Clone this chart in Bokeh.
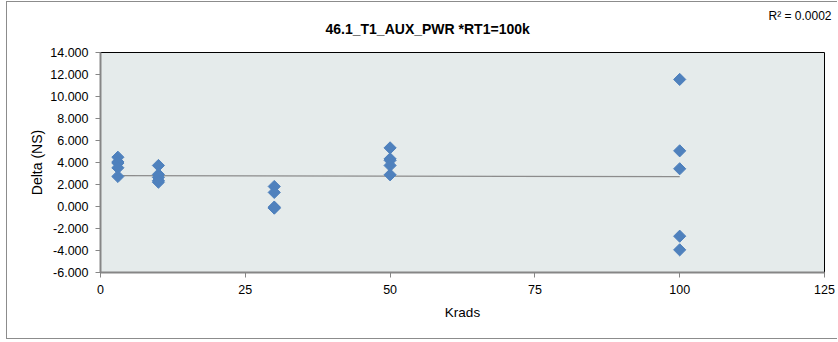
from bokeh.plotting import figure
from bokeh.models import FixedTicker, PrintfTickFormatter, Title, Range1d
from bokeh.embed import file_html
from bokeh.resources import INLINE
import numpy as np

# data
krads = [3, 3, 3, 3, 3,
         10, 10, 10, 10, 10,
         30, 30, 30, 30, 30,
         50, 50, 50, 50, 50,
         100, 100, 100, 100, 100]
delta = [4.48, 4.05, 3.95, 3.52, 2.73,
         3.73, 2.91, 2.65, 2.35, 2.21,
         1.82, 1.28, -0.05, -0.12, -0.15,
         5.33, 4.33, 4.20, 3.73, 2.88,
         11.55, 5.06, 3.43, -2.70, -3.94]
x_ticks = [0, 25, 50, 75, 100, 125]
y_ticks = [-6, -4, -2, 0, 2, 4, 6, 8, 10, 12, 14]
title_text = "46.1_T1_AUX_PWR  *RT1=100k"
r2_text = "R\u00b2 = 0.0002"

FONT = "Liberation Sans"

W, H = 831, 338
p = figure(width=W, height=H, output_backend="svg", toolbar_location=None,
           x_range=Range1d(0, 125), y_range=Range1d(-6, 14),
           min_border_left=93, min_border_right=14, min_border_top=50, min_border_bottom=68)
p.background_fill_color = "#E5EBEB"
p.border_fill_color = "white"
p.outline_line_color = "#000000"
p.outline_line_width = 1
p.xgrid.visible = False
p.ygrid.visible = False

p.xaxis.ticker = FixedTicker(ticks=x_ticks)
p.yaxis.ticker = FixedTicker(ticks=y_ticks)
p.yaxis.formatter = PrintfTickFormatter(format="%.3f")
for ax in (p.xaxis, p.yaxis):
    ax.axis_line_color = "#868686"
    ax.axis_line_width = 2
    ax.major_tick_line_color = "#868686"
    ax.major_tick_out = 5
    ax.major_tick_in = 0
    ax.minor_tick_line_color = None
    ax.major_label_text_font = FONT
    ax.major_label_text_font_size = "12.5px"
    ax.major_label_text_color = "#000000"
    ax.axis_label_text_font = FONT
    ax.axis_label_text_font_style = "normal"
    ax.axis_label_text_color = "#000000"
p.yaxis.axis_label = "Delta (NS)"
p.xaxis.axis_label = "Krads"
p.yaxis.axis_label_text_font_size = "14px"
p.xaxis.axis_label_text_font_size = "13.5px"
p.yaxis.major_label_standoff = 7
p.xaxis.major_label_standoff = 7
p.yaxis.axis_label_standoff = 2
p.xaxis.axis_label_standoff = 8

# trend line (least squares)
slope, intercept = np.polyfit(krads, delta, 1)
tx = [min(krads), max(krads)]
ty = [intercept + slope * v for v in tx]
p.line(tx, ty, line_color="#8C8C8C", line_width=1.2)

p.scatter(krads, delta, marker="square", angle=np.pi / 4, size=8.6,
          fill_color="#4F81BD", line_color="#4F81BD")

# main title: panel nearest the frame
main_title = Title(text=title_text, align="left", offset=225, text_font=FONT,
                   text_font_size="14px", text_font_style="bold", text_color="#000000",
                   standoff=32)
p.add_layout(main_title, "above")

# R² note: outermost panel
p.title.text = r2_text
p.title.align = "left"
p.title.offset = 668
p.title.text_font = FONT
p.title.text_font_size = "12px"
p.title.text_font_style = "normal"
p.title.text_color = "#000000"
p.title.standoff = -40

p.styles = {"margin-left": "6px", "margin-top": "1px",
            "border-left": "1px solid #8c8c8c", "border-top": "1px solid #8c8c8c",
            "border-bottom": "1px solid #8c8c8c"}

open("out.html", "w").write(file_html(p, INLINE))
